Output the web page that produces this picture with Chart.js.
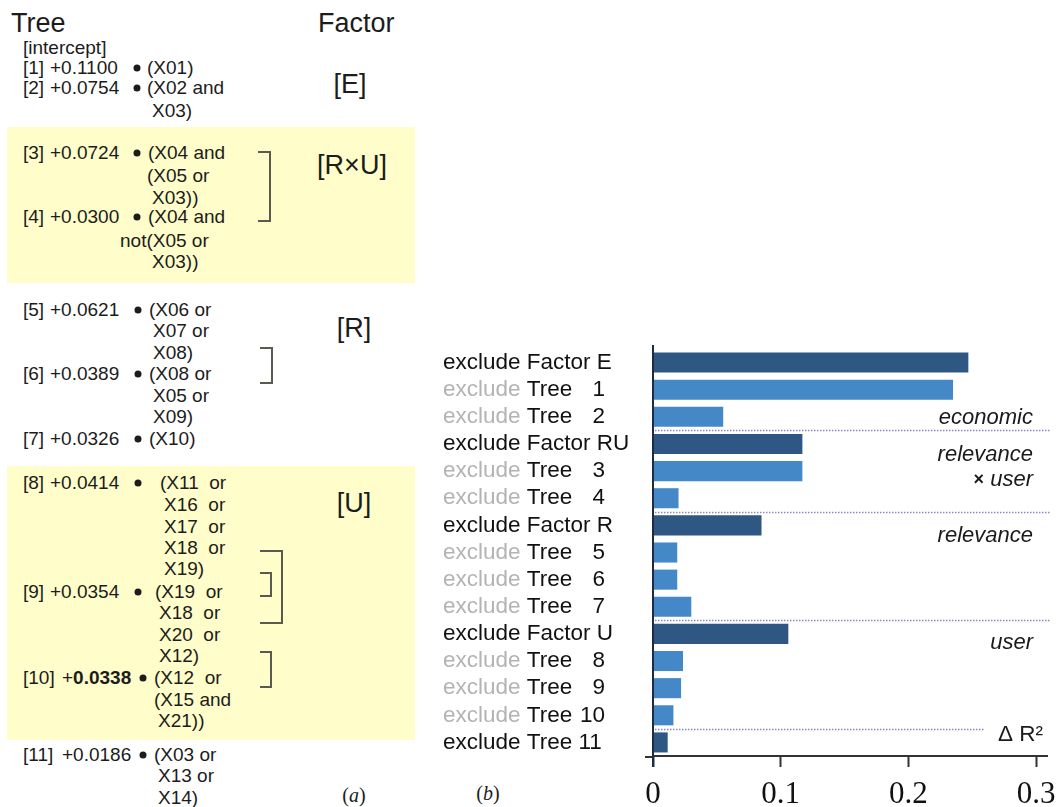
<!DOCTYPE html>
<html>
<head>
<meta charset="utf-8">
<title>Trees, factors and excluded Delta R2</title>
<script src="https://cdn.jsdelivr.net/npm/chart.js@4.4.1/dist/chart.umd.min.js"></script>
<style>
  body { margin: 0; background: #fff; font-family: "Liberation Sans", Arial, sans-serif; color: #1c1c1c; }
  #wrap { position: relative; width: 1057px; height: 807px; overflow: hidden; }
  #chartBox { position: absolute; left: 0; top: 0; width: 1057px; height: 807px; }
  #panelA { position: absolute; left: 0; top: 0; width: 430px; height: 807px; }
  .box { position: absolute; background: #fffdc9; }
  .t { position: absolute; white-space: pre; font-size: 19px; line-height: 1; transform: translateY(-50%); }
  .big { font-size: 27px; }
  .c { transform: translate(-50%, -50%); }
  .dot { position: absolute; width: 7px; height: 7px; border-radius: 50%; background: #1c1c1c; transform: translate(-50%, -50%); }
  .br { position: absolute; border: 2px solid #5a5a50; border-left: none; box-sizing: border-box; }
  .serif { font-family: "Liberation Serif", "Times New Roman", serif; font-size: 20px; }
</style>
</head>
<body>
<div id="wrap">
  <div id="panelA">
    <div class="box" style="left:7px; top:127px; width:408px; height:156px;"></div>
    <div class="box" style="left:7px; top:466px; width:408px; height:274px;"></div>
  </div>
  <div id="chartBox"><canvas id="myChart"></canvas></div>
</div>
<script>
"use strict";

// panel (b): effect on R squared when a factor or a tree is left out
const rowLabels = [
  "exclude Factor E", "exclude Tree 1", "exclude Tree 2",
  "exclude Factor RU", "exclude Tree 3", "exclude Tree 4",
  "exclude Factor R", "exclude Tree 5", "exclude Tree 6", "exclude Tree 7",
  "exclude Factor U", "exclude Tree 8", "exclude Tree 9", "exclude Tree 10",
  "exclude Tree 11"
];
const rowKinds = [
  "factor", "tree", "tree",
  "factor", "tree", "tree",
  "factor", "tree", "tree", "tree",
  "factor", "tree", "tree", "tree",
  "single"
];
const deltaR2 = [
  0.247, 0.235, 0.055,
  0.117, 0.117, 0.020,
  0.085, 0.019, 0.019, 0.030,
  0.106, 0.0235, 0.022, 0.016,
  0.0115
];
const groupBreaks = [2, 5, 9, 13];
const groupNames = ["economic", "relevance", "× user", "relevance", "user"];
const groupRows = [2, 3, 4, 6, 10];
const xTicks = [0, 0.1, 0.2, 0.3];

const darkBlue = "rgb(47, 87, 131)";
const lightBlue = "rgb(69, 136, 200)";

// panel (a): the text of the trees
const panel = document.getElementById("panelA");
function put(x, cy, text, cls) {
  let d = document.createElement("div");
  d.className = "t " + (cls || "");
  d.innerHTML = text;
  d.style.left = x + "px";
  d.style.top = cy + "px";
  panel.appendChild(d);
}
function dot(x, cy) {
  let d = document.createElement("div");
  d.className = "dot";
  d.style.left = x + "px";
  d.style.top = cy + "px";
  panel.appendChild(d);
}
function bracket(x, top, w, h) {
  let d = document.createElement("div");
  d.className = "br";
  d.style.left = x + "px";
  d.style.top = top + "px";
  d.style.width = w + "px";
  d.style.height = h + "px";
  panel.appendChild(d);
}

put(11, 23, "Tree", "big");
put(318, 23, "Factor", "big");
put(23, 47, "[intercept]");

put(23, 67, "[1]"); put(50, 67, "+0.1100"); dot(137, 68); put(147, 67, "(X01)");
put(23, 87, "[2]"); put(50, 87, "+0.0754"); dot(137, 88); put(147, 87, "(X02 and");
put(152, 110, "X03)");

put(23, 152, "[3]"); put(50, 152, "+0.0724"); dot(137, 153); put(148, 152, "(X04 and");
put(147, 175, "(X05 or");
put(152, 197, "X03))");
put(23, 216, "[4]"); put(50, 216, "+0.0300"); dot(137, 217); put(148, 216, "(X04 and");
put(120, 240, "not(X05 or");
put(152, 261, "X03))");

put(23, 309, "[5]"); put(50, 309, "+0.0621"); dot(138, 310); put(149, 309, "(X06 or");
put(153, 330, "X07 or");
put(153, 352, "X08)");
put(23, 373, "[6]"); put(50, 373, "+0.0389"); dot(138, 374); put(149, 373, "(X08 or");
put(153, 395, "X05 or");
put(153, 416, "X09)");
put(23, 438, "[7]"); put(50, 438, "+0.0326"); dot(138, 439); put(149, 438, "(X10)");

put(23, 482, "[8]"); put(50, 482, "+0.0414"); dot(138, 483); put(160, 482, "(X11  or");
put(164, 504, "X16  or");
put(164, 526, "X17  or");
put(164, 547, "X18  or");
put(164, 568, "X19)");
put(23, 591, "[9]"); put(50, 591, "+0.0354"); dot(138, 592); put(155, 591, "(X19  or");
put(159, 612, "X18  or");
put(159, 634, "X20  or");
put(159, 655, "X12)");
put(23, 677, "[10]"); put(62, 677, "+<b>0.0338</b>"); dot(143, 678); put(154, 677, "(X12  or");
put(154, 699, "(X15 and");
put(158, 720, "X21))");
put(23, 754, "[11]"); put(62, 754, "+0.0186"); dot(143, 755); put(154, 754, "(X03 or");
put(158, 775, "X13 or");
put(158, 797, "X14)");

put(350, 84, "[E]", "big c");
put(352, 165, "[R×U]", "big c");
put(354, 328, "[R]", "big c");
put(354, 503, "[U]", "big c");
put(354, 795, "(<i>a</i>)", "serif c");
put(488, 793, "(<i>b</i>)", "serif c");

bracket(258, 151, 13, 71);
bracket(260, 347, 13, 37);
bracket(260, 550, 23, 74);
bracket(260, 572, 12, 25);
bracket(260, 651, 12, 37);

// labels, axis line, group names and dotted separators for panel (b)
const rowTextPlugin = {
  id: "rowText",
  afterDraw(chart) {
    let ctx = chart.ctx;
    let yScale = chart.scales.y;
    let xScale = chart.scales.x;
    let area = chart.chartArea;
    ctx.save();

    ctx.strokeStyle = "#8a86cc";
    ctx.lineWidth = 1.3;
    ctx.setLineDash([1.5, 1.5]);
    for (let i = 0; i < groupBreaks.length; i++) {
      let b = groupBreaks[i];
      let py = Math.round((yScale.getPixelForValue(b) + yScale.getPixelForValue(b + 1)) / 2) + 0.5;
      let right = i === groupBreaks.length - 1 ? 985 : 1050;
      ctx.beginPath();
      ctx.moveTo(area.left + 2, py);
      ctx.lineTo(right, py);
      ctx.stroke();
    }
    ctx.setLineDash([]);

    let zeroX = xScale.getPixelForValue(0);
    ctx.strokeStyle = "#333";
    ctx.lineWidth = 2;
    ctx.beginPath();
    ctx.moveTo(zeroX - 8, area.bottom + 1);
    ctx.lineTo(zeroX, area.bottom + 1);
    ctx.stroke();
    ctx.strokeStyle = "#1d2b45";
    ctx.beginPath();
    ctx.moveTo(zeroX, area.top - 4);
    ctx.lineTo(zeroX, area.bottom + 11);
    ctx.stroke();

    ctx.textBaseline = "middle";
    ctx.font = "22.5px 'Liberation Sans', Arial, sans-serif";
    for (let i = 0; i < rowLabels.length; i++) {
      let py = yScale.getPixelForValue(i);
      let label = rowLabels[i];
      ctx.textAlign = "left";
      if (rowKinds[i] !== "tree") {
        ctx.fillStyle = "#111";
        ctx.fillText(label, 443, py);
        continue;
      }
      let parts = label.split(" ");
      ctx.fillStyle = "#b3b3b3";
      ctx.fillText(parts[0], 443, py);
      let w = ctx.measureText(parts[0] + " ").width;
      ctx.fillStyle = "#111";
      ctx.fillText(parts[1], 443 + w, py);
      ctx.textAlign = "right";
      ctx.fillText(parts[2], 605, py);
    }

    let nudge = [1.5, 10.5, 8.5, 11, 8.5];
    ctx.textAlign = "right";
    ctx.fillStyle = "#1a1a1a";
    for (let i = 0; i < groupNames.length; i++) {
      let py = yScale.getPixelForValue(groupRows[i]) + nudge[i];
      if (groupNames[i].startsWith("×")) {
        ctx.font = "italic 22px 'Liberation Sans', Arial, sans-serif";
        let w = ctx.measureText(groupNames[i].slice(1)).width;
        ctx.fillText(groupNames[i].slice(1), 1033, py);
        ctx.font = "bold 18px 'Liberation Sans', Arial, sans-serif";
        ctx.fillText("×", 1033 - w, py);
      } else {
        ctx.font = "italic 22px 'Liberation Sans', Arial, sans-serif";
        ctx.fillText(groupNames[i], 1033, py);
      }
    }
    ctx.font = "22.5px 'Liberation Sans', Arial, sans-serif";
    ctx.fillText("Δ R²", 1043, yScale.getPixelForValue(14) - 8);
    ctx.restore();
  }
};

const data = {
  labels: rowLabels,
  datasets: [
    {
      label: "Δ R²",
      data: deltaR2,
      backgroundColor: rowKinds.map((k) => (k === "tree" ? lightBlue : darkBlue)),
      borderWidth: 0,
      barPercentage: 0.74,
      categoryPercentage: 1,
    },
  ],
};

const config = {
  type: "bar",
  data: data,
  options: {
    indexAxis: "y",
    responsive: true,
    maintainAspectRatio: false,
    animation: false,
    layout: { padding: { left: 653, right: 10, top: 349, bottom: 0 } },
    plugins: { legend: { display: false }, tooltip: { enabled: false } },
    scales: {
      y: { type: "category", display: false, offset: true },
      x: {
        type: "linear",
        min: 0,
        max: 0.3086,
        afterBuildTicks: (axis) => {
          axis.ticks = xTicks.map((v) => ({ value: v }));
        },
        afterFit: (axis) => {
          axis.height = 51;
          axis.paddingLeft = 0;
          axis.paddingRight = 0;
        },
        grid: { display: true, drawOnChartArea: false, drawTicks: true, tickLength: 11, tickWidth: 2, tickColor: "#333" },
        border: { display: true, color: "#333", width: 2 },
        ticks: {
          font: { family: "'Liberation Serif', 'Times New Roman', serif", size: 31, lineHeight: 1 },
          color: "#111",
          padding: 12,
          callback: (v) => (v === 0 ? "0" : v.toFixed(1)),
        },
      },
    },
  },
  plugins: [rowTextPlugin],
};

new Chart(document.getElementById("myChart"), config);
</script>
</body>
</html>
